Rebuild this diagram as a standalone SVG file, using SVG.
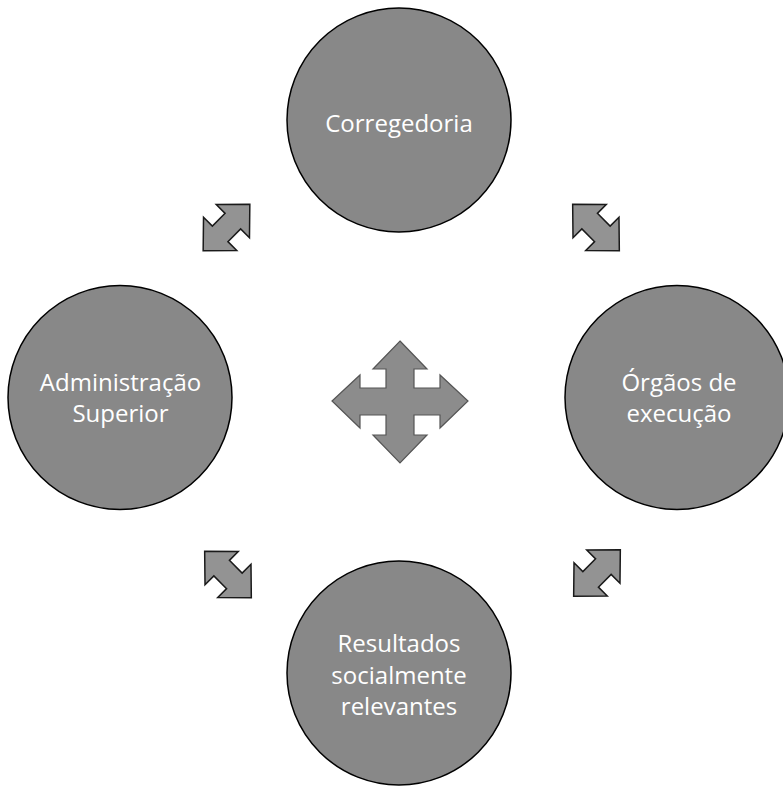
<svg xmlns="http://www.w3.org/2000/svg" width="783" height="790" viewBox="0 0 783 790">
<style>
.node{fill:#888888;stroke:#000;stroke-width:1.5}
.lbl{fill:#fff;font-family:"Open Sans","Noto Sans",sans-serif;font-size:24px;text-anchor:middle}
.cross{fill:#8c8c8c;stroke:#555;stroke-width:1.2;stroke-linejoin:miter}
.darrow{fill:#939393;stroke:#1a1a1a;stroke-width:1.5;stroke-linejoin:miter}
</style>
<defs>
<path id="dbl" d="M33,0 L9,-23.5 L9,-11 L-9,-11 L-9,-23.5 L-33,0 L-9,23.5 L-9,11 L9,11 L9,23.5 Z"/>
</defs>
<rect width="783" height="790" fill="#fff"/>
<g id="connectors">
<path class="cross" d="M400,341 L427,369 L414,369 L414,388 L440,388 L440,375 L468,401 L440,428 L440,415 L414,415 L414,435 L427,435 L400,463 L373,435 L386,435 L386,415 L360,415 L360,428 L332,401 L360,375 L360,388 L386,388 L386,369 L373,369 Z"/>
<use href="#dbl" class="darrow" transform="translate(226.5,227.5) rotate(-45)"/>
<use href="#dbl" class="darrow" transform="translate(596,227.5) rotate(45)"/>
<use href="#dbl" class="darrow" transform="translate(228,574.5) rotate(45)"/>
<use href="#dbl" class="darrow" transform="translate(597,573) rotate(-45)"/>
</g>
<g id="corregedoria">
<circle class="node" cx="399" cy="120" r="112"/>
<text class="lbl" x="399" y="132">Corregedoria</text>
</g>
<g id="administracao">
<circle class="node" cx="120" cy="397.5" r="112"/>
<text class="lbl" x="120.5" y="391">Administração</text>
<text class="lbl" x="120.5" y="422">Superior</text>
</g>
<g id="orgaos">
<circle class="node" cx="677" cy="397.5" r="112"/>
<text class="lbl" x="679" y="391">Órgãos de</text>
<text class="lbl" x="679" y="422">execução</text>
</g>
<g id="resultados">
<circle class="node" cx="399" cy="673" r="112"/>
<text class="lbl" x="399" y="652">Resultados</text>
<text class="lbl" x="399" y="684">socialmente</text>
<text class="lbl" x="399" y="715">relevantes</text>
</g>
</svg>
